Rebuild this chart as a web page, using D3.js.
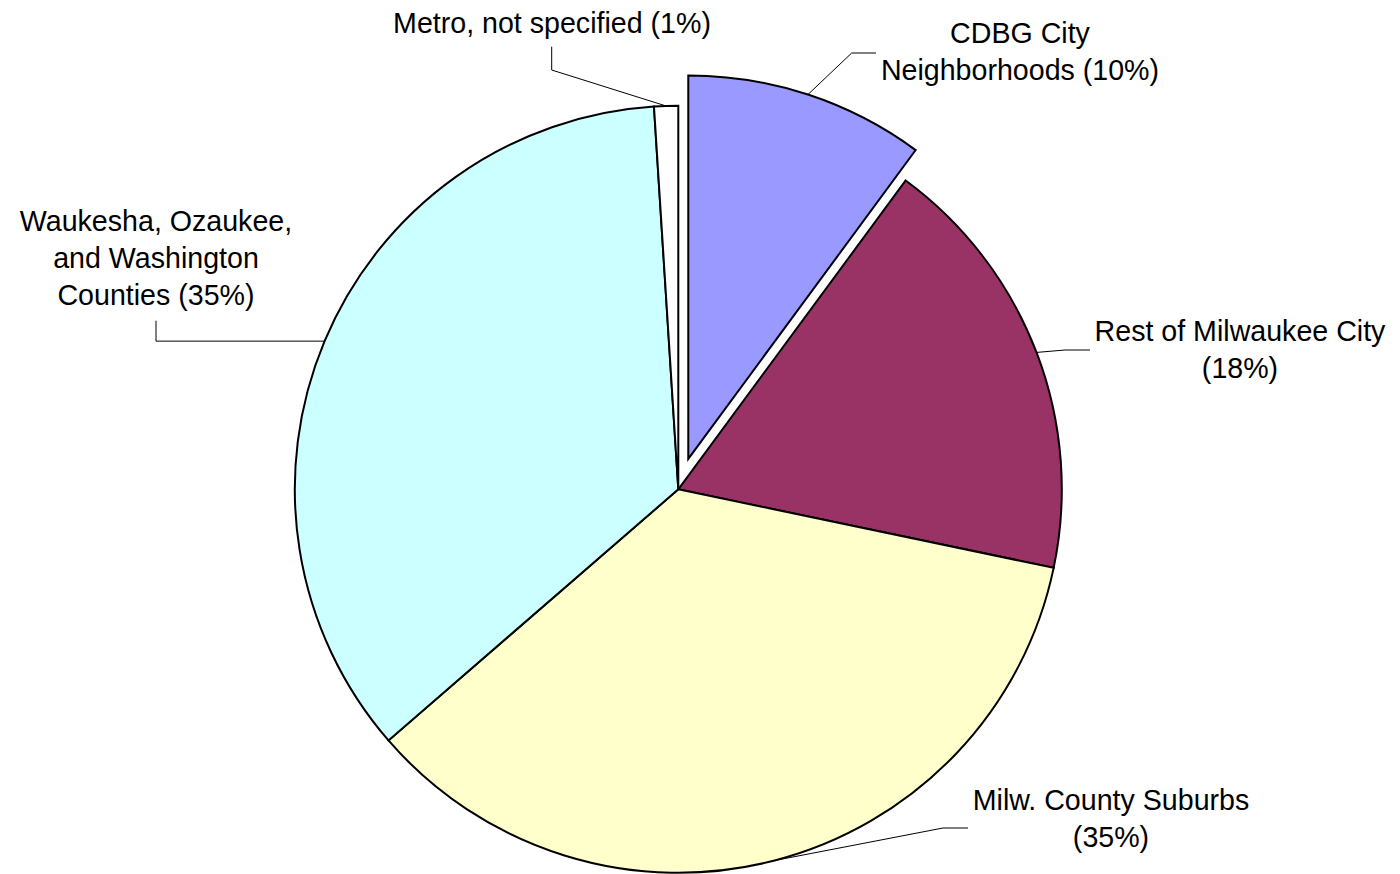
<!DOCTYPE html>
<html>
<head>
<meta charset="utf-8">
<script src="https://cdn.jsdelivr.net/npm/d3@7"></script>
<style>
  html, body { margin: 0; padding: 0; background: #fff; }
  svg { display: block; }
  text { font-family: "Liberation Sans", Arial, sans-serif; font-size: 28.6px; fill: #000; }
</style>
</head>
<body>
<svg id="chart" width="1400" height="874"></svg>
<script>
// Share of responses by area (percent), clockwise from 12 o'clock
const categories = [
  "CDBG City Neighborhoods",
  "Rest of Milwaukee City",
  "Milw. County Suburbs",
  "Waukesha, Ozaukee, and Washington Counties",
  "Metro, not specified"
];
const values = [10, 18, 35, 35, 1];
const colors = ["#9999FF", "#993366", "#FFFFCC", "#CCFFFF", "#FFFFFF"];
// Label text, one array of lines per slice
const labelLines = [
  ["CDBG City", "Neighborhoods (10%)"],
  ["Rest of Milwaukee City", "(18%)"],
  ["Milw. County Suburbs", "(35%)"],
  ["Waukesha, Ozaukee,", "and Washington", "Counties (35%)"],
  ["Metro, not specified (1%)"]
];
const exploded = [true, false, false, false, false];

const svg = d3.select("#chart");
const cx = 678.3, cy = 489.3, radius = 383.5, explode = 32;

const pie = d3.pie().sort(null).value(d => d.value).startAngle(0).endAngle(2 * Math.PI);
const arcs = pie(categories.map((c, i) => ({ name: c, value: values[i], i })));
const arc = d3.arc().innerRadius(0).outerRadius(radius);

const g = svg.append("g").attr("transform", `translate(${cx},${cy})`);

function offsetOf(d) {
  if (!exploded[d.data.i]) return [0, 0];
  const a = (d.startAngle + d.endAngle) / 2;
  return [explode * Math.sin(a), -explode * Math.cos(a)];
}

g.selectAll("path.slice")
  .data(arcs)
  .join("path")
  .attr("class", "slice")
  .attr("transform", d => { const o = offsetOf(d); return `translate(${o[0]},${o[1]})`; })
  .attr("d", arc)
  .attr("fill", d => colors[d.data.i])
  .attr("stroke", "#000")
  .attr("stroke-width", 2)
  .attr("stroke-linejoin", "miter");

// Label placement: text centre x, first baseline y, and the leader's route
// after leaving the slice edge (elbow point, then end point).
const labelLayout = [
  { x: 1020, y: 43, elbow: [851.7, 53], end: [876, 53] },
  { x: 1240, y: 341, elbow: [1065, 350], end: [1090, 350] },
  { x: 1111, y: 810, elbow: [943, 828], end: [968, 828] },
  { x: 156, y: 231, elbow: [156, 345.7], end: [156, 320.7] },
  { x: 552, y: 33, elbow: [551.7, 70], end: [551.7, 46.7] }
];
const lineGap = 37;

// Leader lines start on the rim at each slice's mid-angle
const leaders = svg.append("g");
arcs.forEach(d => {
  const L = labelLayout[d.data.i];
  const a = (d.startAngle + d.endAngle) / 2;
  const o = offsetOf(d);
  const sx = cx + o[0] + radius * Math.sin(a);
  const sy = cy + o[1] - radius * Math.cos(a);
  let elbow = L.elbow;
  // the left-hand leader runs level from the rim before turning up
  if (d.data.i === 3) elbow = [L.elbow[0], sy];
  leaders.append("path")
    .attr("d", d3.line()([[sx, sy], elbow, L.end]))
    .attr("fill", "none")
    .attr("stroke", "#000")
    .attr("stroke-width", 1);
});

const labels = svg.append("g");
arcs.forEach(d => {
  const L = labelLayout[d.data.i];
  const t = labels.append("text").attr("text-anchor", "middle");
  labelLines[d.data.i].forEach((line, k) => {
    t.append("tspan").attr("x", L.x).attr("y", L.y + k * lineGap).text(line);
  });
});
</script>
</body>
</html>
